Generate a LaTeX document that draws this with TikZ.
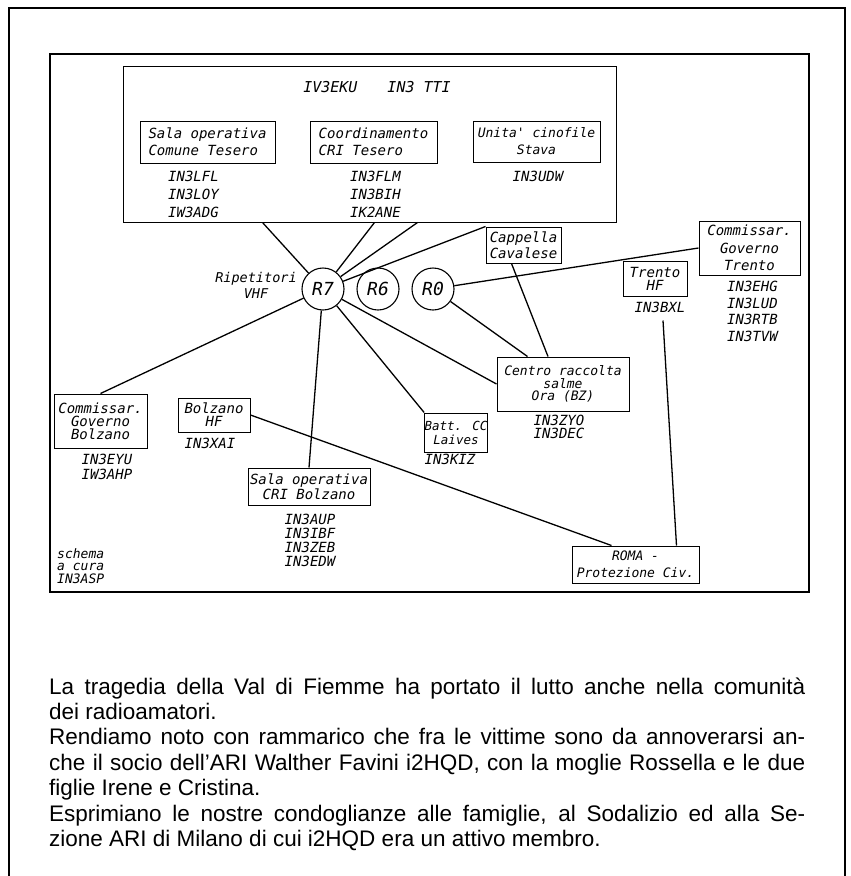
\documentclass[tikz,border=0pt]{standalone}
\usepackage{fontspec}
\setmainfont{Liberation Sans}
\newfontfamily\dmono{DejaVu Sans Mono Oblique}
\usetikzlibrary{calc}
\newcommand{\dm}[2]{\dmono\fontsize{#1}{#2}\selectfont}
\begin{document}
\begin{tikzpicture}[x=1pt,y=-1pt,
  lbl/.style={font=\dm{14}{17}, inner sep=0pt, align=center},
  boxn/.style={lbl, draw, line width=1pt},
  rep/.style={draw, circle, line width=1.1pt, minimum size=42pt, inner sep=0pt, font=\dm{18}{18}},
  conn/.style={line width=1.3pt},
  frame/.style={line width=1.3pt},
  body/.style={font=\fontsize{22.5}{25.4}\selectfont, anchor=base west, inner sep=0pt}
]
\useasboundingbox (0,0) rectangle (851,876);
\draw[frame] (9,876) -- (9,8) -- (845,8) -- (845,876);
\draw[frame] (50,54) rectangle (809,592);

% top group
\node[boxn, minimum width=493, minimum height=156] (top) at (369.5,144) {};
\node[lbl, font=\dm{15}{17}] (opr) at (377,87) {IV3EKU\hspace{30pt}IN3 TTI};
\node[boxn, align=left, minimum width=135, minimum height=42] (sot) at (207.5,142) {Sala operativa\\Comune Tesero};
\node[boxn, align=left, minimum width=127, minimum height=42] (cri) at (373.5,142) {Coordinamento\\CRI Tesero};
\node[boxn, font=\dm{13}{17}, minimum width=127, minimum height=41] (uni) at (536.5,141.5) {Unita' cinofile\\Stava};
\node[lbl, align=left, anchor=west, font=\dm{14}{18}] (sotc) at (168,194) {IN3LFL\\IN3LOY\\IW3ADG};
\node[lbl, align=left, anchor=west, font=\dm{14}{18}] (cric) at (350,194) {IN3FLM\\IN3BIH\\IK2ANE};
\node[lbl] (unic) at (538,176) {IN3UDW};

% repeaters
\node[rep] (R7) at (323,289) {R7};
\node[rep] (R6) at (378,289) {R6};
\node[rep] (R0) at (433,289) {R0};
\node[lbl, font=\dm{13.5}{16}] (rip) at (256,285) {Ripetitori\\VHF};

% right side
\node[boxn, font=\dm{14}{16}, minimum width=75, minimum height=36] (cap) at (523.5,245) {Cappella\\Cavalese};
\node[boxn, font=\dm{14}{17.5}, minimum width=101, minimum height=54] (ctn) at (749.5,248) {Commissar.\\Governo\\Trento};
\node[lbl, align=left, anchor=west, font=\dm{14}{16.5}] (ctnc) at (727,311.5) {IN3EHG\\IN3LUD\\IN3RTB\\IN3TVW};
\node[boxn, font=\dm{14}{13}, minimum width=64, minimum height=35] (thf) at (655,278.5) {Trento\\HF};
\node[lbl] (bxl) at (660,307) {IN3BXL};
\node[boxn, font=\dm{13}{12.5}, minimum width=132, minimum height=54] (centro) at (563,384) {Centro raccolta\\salme\\Ora (BZ)};
\node[lbl, font=\dm{14}{12.5}] (centroc) at (559,427) {IN3ZYO\\IN3DEC};
\node[boxn, font=\dm{12.5}{14}, minimum width=62, minimum height=39] (batt) at (456,432.5) {Batt. CC\\Laives};
\node[lbl] (battc) at (450,459) {IN3KIZ};

% left side
\node[boxn, font=\dm{14}{13}, minimum width=93, minimum height=54] (cbz) at (100.5,421) {Commissar.\\Governo\\Bolzano};
\node[lbl, font=\dm{14}{15}] (cbzc) at (107,467) {IN3EYU\\IW3AHP};
\node[boxn, font=\dm{14}{13}, minimum width=72, minimum height=34] (bhf) at (214,415) {Bolzano\\HF};
\node[lbl] (bhfc) at (210,443) {IN3XAI};
\node[boxn, font=\dm{14}{15}, minimum width=122, minimum height=37] (sbz) at (309,486.5) {Sala operativa\\CRI Bolzano};
\node[lbl, font=\dm{14}{14}] (sbzc) at (310,540) {IN3AUP\\IN3IBF\\IN3ZEB\\IN3EDW};
\node[boxn, font=\dm{13}{17}, minimum width=127, minimum height=37] (roma) at (635.5,564.5) {ROMA -\\Protezione Civ.};
\node[lbl, align=left, anchor=west, font=\dm{13}{12.5}] (sch) at (57,566) {schema\\a cura\\IN3ASP};

% connectors
\coordinate (t1) at ([xshift=140pt]top.south west);
\coordinate (t2) at ([xshift=252pt]top.south west);
\coordinate (t3) at ([xshift=295pt]top.south west);
\coordinate (bxlend) at ([xshift=3pt,yshift=-8pt]bxl.south);
\draw[conn] (R7) -- (t1);
\draw[conn] (R7) -- (t2);
\draw[conn] (R7) -- (t3);
\draw[conn] (R7) -- (cap.north west);
\draw[conn] (R7) -- (cbz.north);
\draw[conn] (R7) -- (sbz.north);
\draw[conn] (R7) -- (batt.north west);
\draw[conn] (R7) -- (centro.west);
\draw[conn] (R0) -- (ctn.west);
\draw[conn] (R0) -- ([xshift=31pt]centro.north west);
\draw[conn] ([xshift=-12pt]cap.south) -- ([xshift=-15pt]centro.north);
\draw[conn] (bhf.east) -- ([xshift=40pt]roma.north west);
\draw[conn] (bxlend) -- ([xshift=41pt]roma.north);

% body text
\node[body] (l1) at (49,694) {\makebox[756pt][s]{La tragedia della Val di Fiemme ha portato il lutto anche nella comunità}};
\node[body] (l2) at (49,719.4) {dei radioamatori.};
\node[body] (l3) at (49,744.8) {\makebox[756pt][s]{Rendiamo noto con rammarico che fra le vittime sono da annoverarsi an-}};
\node[body] (l4) at (49,770.2) {\makebox[756pt][s]{che il socio dell'ARI Walther Favini i2HQD, con la moglie Rossella e le due}};
\node[body] (l5) at (49,795.6) {figlie Irene e Cristina.};
\node[body] (l6) at (49,821) {\makebox[756pt][s]{Esprimiano le nostre condoglianze alle famiglie, al Sodalizio ed alla Se-}};
\node[body] (l7) at (49,846.4) {zione ARI di Milano di cui i2HQD era un attivo membro.};
\end{tikzpicture}
\end{document}
